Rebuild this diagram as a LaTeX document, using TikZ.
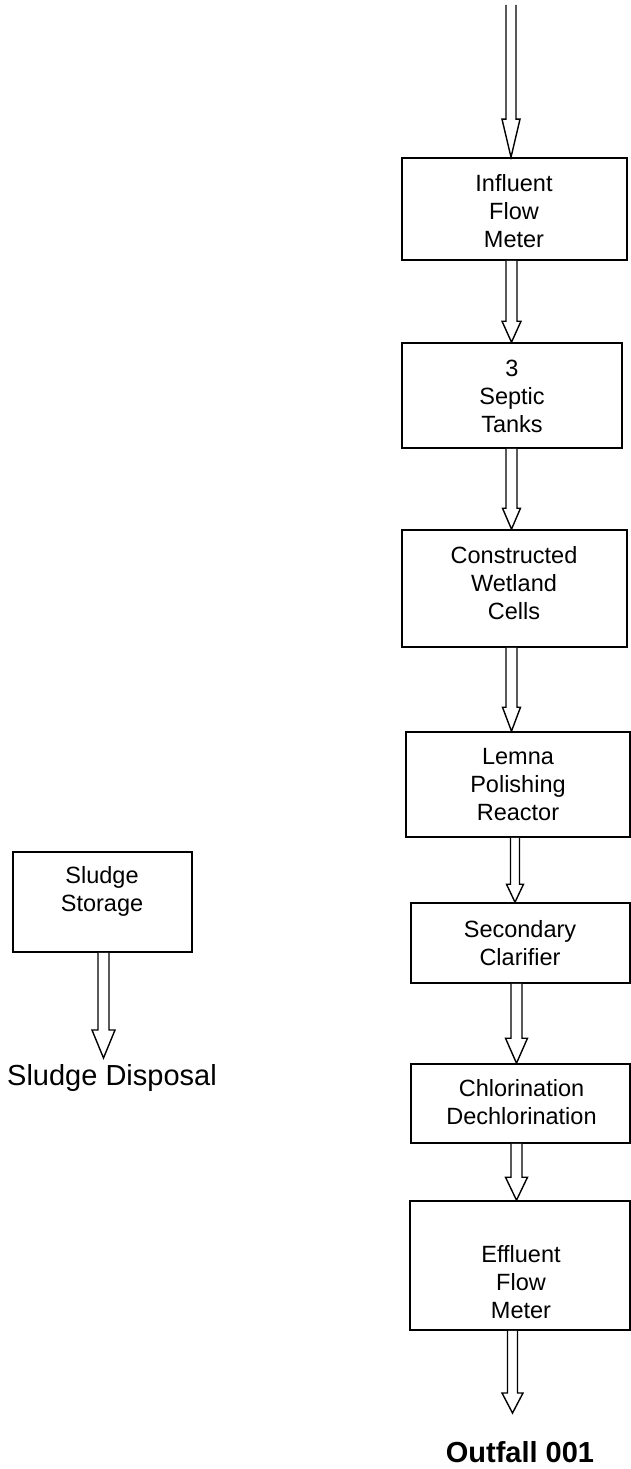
\documentclass[tikz,border=0pt]{standalone}
\usepackage{fontspec}
\setmainfont{Liberation Sans}
\usetikzlibrary{calc}
\tikzset{
  boxnode/.style={draw=black, line width=1.6pt, fill=white, inner sep=0pt},
  txt/.style={align=center, inner sep=0pt, font=\fontsize{23.5}{28}\selectfont},
  arrowline/.style={draw=black, line width=1.4pt, fill=white, line join=miter},
}
% #1 start point, #2 end point, #3 centre x, #4 shaft half width, #5 head half width, #6 head length
\newcommand\blockarrow[6]{%
  \draw[arrowline] let \p1=(#1), \p2=(#2) in
    (#3pt-#4pt,\y1) -- (#3pt-#4pt,\y2+#6pt) -- (#3pt-#5pt,\y2+#6pt) -- (#3pt,\y2)
    -- (#3pt+#5pt,\y2+#6pt) -- (#3pt+#4pt,\y2+#6pt) -- (#3pt+#4pt,\y1);%
}
\begin{document}
\begin{tikzpicture}[x=1pt,y=-1pt]
\useasboundingbox (0,0) rectangle (631,1469);
% boxes
\node[boxnode, minimum width=225pt, minimum height=102pt] (b1) at (514.5,209) {};
\node[boxnode, minimum width=220pt, minimum height=105pt] (b2) at (512,395.5) {};
\node[boxnode, minimum width=225pt, minimum height=117pt] (b3) at (514.5,588.5) {};
\node[boxnode, minimum width=224pt, minimum height=105pt] (b4) at (518,784.5) {};
\node[boxnode, minimum width=219pt, minimum height=80pt] (b5) at (520.5,943) {};
\node[boxnode, minimum width=219pt, minimum height=79pt] (b6) at (520.5,1103.5) {};
\node[boxnode, minimum width=220pt, minimum height=129pt] (b7) at (520,1265.5) {};
\node[boxnode, minimum width=179pt, minimum height=100pt] (s1) at (102.5,902) {};
% texts
\node[txt] (t1) at (514,211) {Influent\\Flow\\Meter};
\node[txt] (t2) at (512,396) {3\\Septic\\Tanks};
\node[txt] (t3) at (514,583) {Constructed\\Wetland\\Cells};
\node[txt] (t4) at (518,785) {Lemna\\Polishing\\Reactor};
\node[txt] (t5) at (520,943) {Secondary\\Clarifier};
\node[txt] (t6) at (521.5,1102) {Chlorination\\Dechlorination};
\node[txt] (t7) at (521,1282) {Effluent\\Flow\\Meter};
\node[txt] (ts) at (102,891) {Sludge\\Storage};
\node[inner sep=0pt, font=\fontsize{29}{34}\selectfont] (sd) at (112,1078) {Sludge Disposal};
\node[inner sep=0pt, font=\fontsize{29}{34}\selectfont\bfseries] (of) at (520,1452) {Outfall 001};
% free ends
\coordinate (in) at (511,5);
\coordinate (out) at (512.5,1413);
\coordinate (sout) at (103.5,1058);
% arrows
\blockarrow{in}{b1.north}{511}{5}{9}{38}
\blockarrow{b1.south}{b2.north}{511.5}{5.5}{9.5}{21}
\blockarrow{b2.south}{b3.north}{511.5}{5.5}{9}{21}
\blockarrow{b3.south}{b4.north}{511.5}{5.5}{9}{24}
\blockarrow{b4.south}{b5.north}{515}{4.5}{8.5}{18}
\blockarrow{b5.south}{b6.north}{516.5}{5.5}{11}{25}
\blockarrow{b6.south}{b7.north}{516.5}{5.5}{11}{23}
\blockarrow{b7.south}{out}{512.5}{5}{10.5}{20}
\blockarrow{s1.south}{sout}{103.5}{5.5}{11.5}{28}
\end{tikzpicture}
\end{document}
